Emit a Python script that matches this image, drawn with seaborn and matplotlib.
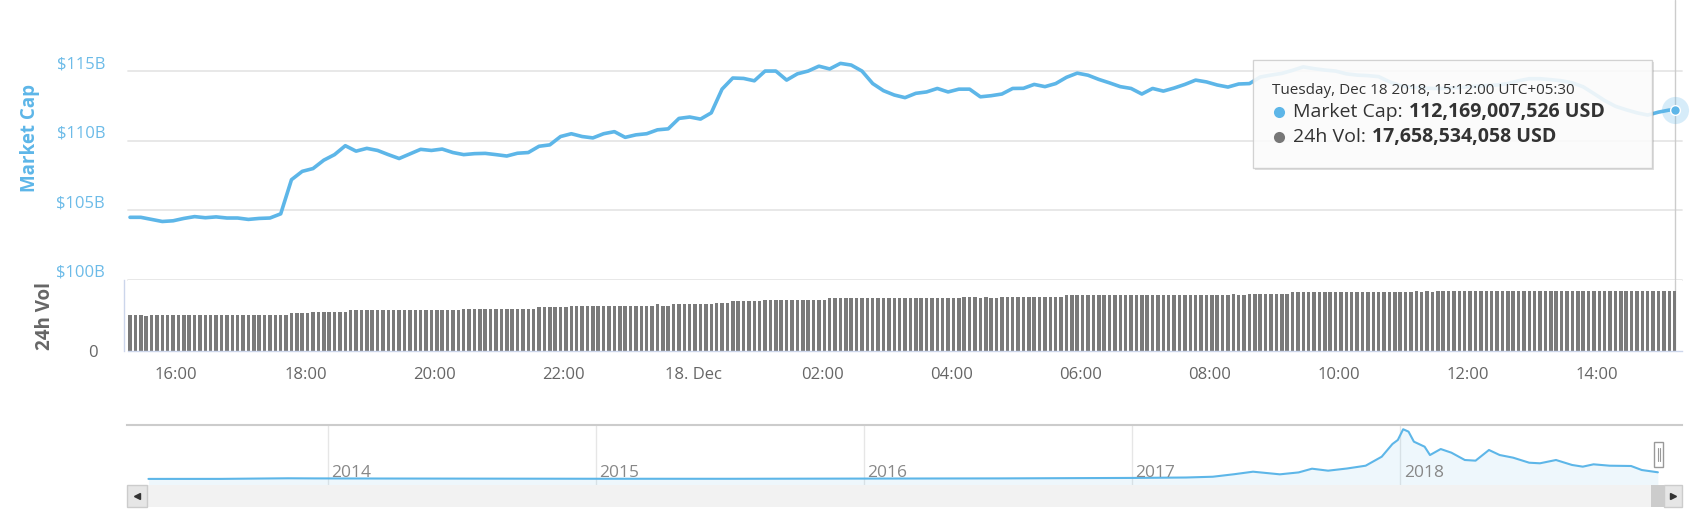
import matplotlib
matplotlib.use("Agg")
import matplotlib.pyplot as plt
import matplotlib.transforms as mtransforms
from matplotlib.lines import Line2D
from matplotlib.patches import Rectangle
import seaborn as sns

W, H = 1694, 519
BLUE = "#5db6e8"
GREY_TXT = "#666666"

# market cap, $B, every 10 min from 15:17 (minutes counted from 16:00 Dec 17)
mc_minutes = list(range(-43, 1388, 10)) + [1392]
market_cap = [
    104.5, 104.5, 104.35, 104.2, 104.25, 104.42, 104.55, 104.47, 104.53, 104.45,
    104.45, 104.35, 104.42, 104.45, 104.75, 107.2, 107.8, 108.0, 108.6, 109.0,
    109.64, 109.25, 109.45, 109.3, 109.0, 108.72, 109.05, 109.38, 109.3, 109.4,
    109.15, 109.0, 109.07, 109.09, 109.0, 108.9, 109.1, 109.15, 109.6, 109.7,
    110.3, 110.5, 110.3, 110.2, 110.5, 110.65, 110.24, 110.42, 110.5, 110.78,
    110.85, 111.6, 111.7, 111.55, 112.0, 113.7, 114.5, 114.47, 114.3, 115.0,
    115.0, 114.35, 114.8, 115.0, 115.35, 115.15, 115.55, 115.43, 115.0, 114.1,
    113.59, 113.28, 113.09, 113.4, 113.5, 113.75, 113.5, 113.7, 113.7, 113.15,
    113.23, 113.35, 113.75, 113.76, 114.04, 113.88, 114.1, 114.55, 114.85, 114.7,
    114.4, 114.15, 113.88, 113.75, 113.35, 113.75, 113.56, 113.78, 114.04, 114.35,
    114.22, 114.0, 113.85, 114.07, 114.1, 114.57, 114.71, 114.83, 115.05, 115.3,
    115.17, 115.07, 115.0, 114.8, 114.71, 114.67, 114.6, 114.23, 113.95, 113.85,
    113.8, 113.75, 113.75, 113.8, 113.85, 113.9, 113.95, 114.0, 114.1, 114.3,
    114.45, 114.45, 114.38, 114.3, 114.15, 113.87, 113.38, 112.88, 112.47, 112.22,
    112.0, 111.84, 112.05, 112.2, 112.169,
]

# 24h volume, $B, every 5 min (one row per hour)
vol_minutes = list(range(-43, 1393, 5))
volume = [
    10.6, 10.6, 10.6, 10.2, 10.6, 10.6, 10.6, 10.6, 10.6, 10.6, 10.6, 10.6,
    10.6, 10.6, 10.6, 10.6, 10.6, 10.6, 10.6, 10.6, 10.6, 10.6, 10.6, 10.6,
    10.6, 10.6, 10.6, 10.6, 10.6, 10.6, 11.1, 11.1, 11.1, 11.1, 11.5, 11.5,
    11.5, 11.5, 11.5, 11.5, 11.5, 12.05, 12.05, 12.05, 12.05, 12.05, 12.05, 12.05,
    12.05, 12.05, 12.05, 12.05, 12.05, 12.05, 12.05, 12.05, 12.05, 12.05, 12.05, 12.05,
    12.05, 12.05, 12.4, 12.4, 12.4, 12.4, 12.4, 12.4, 12.4, 12.4, 12.4, 12.4,
    12.4, 12.4, 12.4, 12.4, 12.9, 12.9, 12.9, 12.9, 12.9, 12.9, 13.3, 13.3,
    13.3, 13.3, 13.3, 13.3, 13.3, 13.3, 13.3, 13.3, 13.3, 13.3, 13.3, 13.3,
    13.3, 13.3, 13.8, 13.3, 13.3, 13.8, 13.8, 13.8, 13.8, 13.8, 13.8, 13.8,
    13.8, 14.2, 14.2, 14.2, 14.7, 14.7, 14.7, 14.7, 14.7, 14.7, 15.05, 15.05,
    15.05, 15.05, 15.05, 15.05, 15.05, 15.05, 15.05, 15.05, 15.05, 15.05, 15.55, 15.55,
    15.55, 15.55, 15.55, 15.55, 15.55, 15.55, 15.55, 15.55, 15.55, 15.55, 15.55, 15.55,
    15.55, 15.55, 15.55, 15.55, 15.55, 15.55, 15.55, 15.55, 15.55, 15.55, 15.55, 15.95,
    15.95, 15.95, 15.55, 15.95, 15.55, 15.55, 15.95, 15.95, 15.95, 15.95, 15.95, 15.95,
    15.95, 15.95, 15.95, 15.95, 15.95, 15.95, 16.45, 16.45, 16.45, 16.45, 16.45, 16.45,
    16.45, 16.45, 16.45, 16.45, 16.45, 16.45, 16.45, 16.45, 16.45, 16.45, 16.45, 16.45,
    16.45, 16.45, 16.45, 16.45, 16.45, 16.45, 16.45, 16.45, 16.45, 16.45, 16.45, 16.45,
    16.45, 16.85, 16.45, 16.45, 16.85, 16.85, 16.85, 16.85, 16.85, 16.85, 16.85, 16.85,
    17.3, 17.3, 17.3, 17.3, 17.3, 17.3, 17.3, 17.3, 17.3, 17.3, 17.3, 17.3,
    17.3, 17.3, 17.3, 17.3, 17.3, 17.3, 17.3, 17.3, 17.3, 17.3, 17.3, 17.66,
    17.3, 17.66, 17.3, 17.66, 17.66, 17.66, 17.66, 17.66, 17.66, 17.66, 17.66, 17.66,
    17.66, 17.66, 17.66, 17.66, 17.66, 17.66, 17.66, 17.66, 17.66, 17.66, 17.66, 17.66,
    17.66, 17.66, 17.66, 17.66, 17.66, 17.66, 17.66, 17.66, 17.66, 17.66, 17.66, 17.66,
    17.66, 17.66, 17.66, 17.66, 17.66, 17.66, 17.66, 17.66, 17.66, 17.66, 17.66, 17.66,
]

# navigator: total market cap history, $B
nav_year = [2013.33, 2013.6, 2013.85, 2013.95, 2014.2, 2014.6, 2015.0, 2015.5, 2016.0,
            2016.5, 2017.0, 2017.2, 2017.3, 2017.38, 2017.45, 2017.55, 2017.62, 2017.67,
            2017.73, 2017.8, 2017.87, 2017.93, 2017.97, 2017.99, 2018.01, 2018.03, 2018.05,
            2018.09, 2018.11, 2018.15, 2018.19, 2018.24, 2018.28, 2018.33, 2018.37, 2018.42,
            2018.48, 2018.52, 2018.58, 2018.64, 2018.68, 2018.72, 2018.78, 2018.86, 2018.9,
            2018.96]
nav_cap = [1.5, 2, 12, 10, 8, 6, 4, 3.5, 7,
           10, 18, 25, 38, 80, 122, 78, 110, 172,
           139, 175, 222, 372, 584, 651, 830, 790, 623,
           539, 400, 500, 439, 317, 306, 484, 400, 356,
           272, 262, 317, 234, 206, 245, 222, 217, 150,
           112]
nav_years = [2014, 2015, 2016, 2017, 2018]

cap_ticks = [100, 105, 110, 115]
cap_labels = ["$100B", "$105B", "$110B", "$115B"]
time_ticks = list(range(0, 1321, 120))
time_labels = ["16:00", "18:00", "20:00", "22:00", "18. Dec", "02:00",
               "04:00", "06:00", "08:00", "10:00", "12:00", "14:00"]

sns.set_style("white")
plt.rcParams["font.family"] = ["Open Sans", "DejaVu Sans"]

fig = plt.figure(figsize=(W / 100, H / 100), dpi=100)


def box(l, t, r, b):
    return [l / W, 1 - b / H, (r - l) / W, (b - t) / H]


def fx(x):
    return x / W


def fy(y):
    return 1 - y / H


XMIN = (128 - 176.3) / 1.0764
XMAX = (1682 - 176.3) / 1.0764

ax = fig.add_axes(box(128, 0, 1682, 280))
ax_vol = fig.add_axes(box(128, 280, 1682, 351))
ax_nav = fig.add_axes(box(127, 425, 1682, 485))

# --- market cap pane
for v in cap_ticks:
    ax.axhline(v, color="#e6e6e6", lw=1.3, zorder=0, clip_on=False)
ax.axvline(mc_minutes[-1], color="#cccccc", lw=1, zorder=1)
sns.lineplot(x=mc_minutes, y=market_cap, ax=ax, color=BLUE, linewidth=2.6, zorder=3)
ax.plot([mc_minutes[-1]], [market_cap[-1]], "o", ms=19.5, color=BLUE, alpha=0.25,
        mec="none", zorder=4, clip_on=False)
ax.plot([mc_minutes[-1]], [market_cap[-1]], "o", ms=7, color=BLUE, mec="white",
        mew=1, zorder=5, clip_on=False)
ax.set_xlim(XMIN, XMAX)
ax.set_ylim(100, 120.1)
ax.set_yticks(cap_ticks, cap_labels)
ax.tick_params(axis="y", length=0, pad=16.5, labelsize=12, labelcolor="#6cbbe8")
ax.set_xticks([])
ax.set_xlabel("")
ax.set_ylabel("")
sns.despine(ax=ax, left=True, bottom=True)
off = mtransforms.ScaledTranslation(0, 0.09, fig.dpi_scale_trans)
for lab in ax.get_yticklabels():
    lab.set_transform(lab.get_transform() + off)

# --- volume pane
ax_vol.axvline(mc_minutes[-1], color="#cccccc", lw=1, zorder=0)
sns.barplot(x=vol_minutes, y=volume, native_scale=True, width=0.65, color="#7a7a7a",
            saturation=1, errorbar=None, linewidth=0, ax=ax_vol)
ax_vol.set_xlim(XMIN, XMAX)
ax_vol.set_ylim(0, 20.9)
ax_vol.set_xticks(time_ticks, time_labels)
ax_vol.set_yticks([0], ["0"])
ax_vol.tick_params(axis="x", length=7.2, width=1, color="#ccd6eb", pad=4,
                   labelsize=12, labelcolor=GREY_TXT)
ax_vol.tick_params(axis="y", length=0, pad=19, labelsize=12, labelcolor=GREY_TXT)
off0 = mtransforms.ScaledTranslation(0, 0.08, fig.dpi_scale_trans)
for lab in ax_vol.get_yticklabels():
    lab.set_transform(lab.get_transform() + off0)
ax_vol.set_xlabel("")
ax_vol.set_ylabel("")
sns.despine(ax=ax_vol)
for side in ("left", "bottom"):
    ax_vol.spines[side].set_color("#ccd6eb")
    ax_vol.spines[side].set_linewidth(1)
ax_vol.spines["left"].set_position(("outward", 2.9))

fig.text(fx(30), fy(138), "Market Cap", rotation=90, color=BLUE, fontsize=13.5,
         fontweight="bold", ha="center", va="center")
fig.text(fx(45), fy(316), "24h Vol", rotation=90, color=GREY_TXT, fontsize=13.5,
         fontweight="bold", ha="center", va="center")

# --- navigator
for yr in nav_years:
    ax_nav.axvline(yr, color="#e6e6e6", lw=1, zorder=0)
    ax_nav.text(yr + 0.012, 0.2, str(yr), color="#888888", fontsize=12.5,
                va="center", ha="left",
                transform=mtransforms.blended_transform_factory(ax_nav.transData, ax_nav.transAxes))
ax_nav.fill_between(nav_year, nav_cap, -100, color=BLUE, alpha=0.1, lw=0)
sns.lineplot(x=nav_year, y=nav_cap, ax=ax_nav, color=BLUE, linewidth=1.5)
ax_nav.set_xlim(2013.25, 2019.05)
ax_nav.set_ylim(-100, 901)
ax_nav.set_xticks([])
ax_nav.set_yticks([])
ax_nav.set_xlabel("")
ax_nav.set_ylabel("")
for side in ("left", "right", "bottom"):
    ax_nav.spines[side].set_visible(False)
ax_nav.spines["top"].set_color("#cccccc")
ax_nav.spines["top"].set_linewidth(1.5)


def rect(l, t, r, b, **kw):
    fig.add_artist(Rectangle((fx(l), fy(b)), (r - l) / W, (b - t) / H,
                             transform=fig.transFigure, **kw))


# navigator handle
rect(1654, 442, 1663, 467, fc="white", ec="#999999", lw=1, zorder=5)
for xh in (1657.5, 1659.5):
    fig.add_artist(Line2D([fx(xh), fx(xh)], [fy(448), fy(461)], color="#999999",
                          lw=0.8, transform=fig.transFigure, zorder=6))

# scrollbar
rect(127, 485, 1682, 507, fc="#f2f2f2", ec="none", zorder=2)
rect(127, 485, 147, 507, fc="#e6e6e6", ec="#cccccc", lw=1, zorder=3)
rect(1651, 485, 1664, 507, fc="#cccccc", ec="none", zorder=3)
rect(1664, 485, 1682, 507, fc="#e6e6e6", ec="#cccccc", lw=1, zorder=3)
fig.add_artist(Line2D([fx(137)], [fy(496)], marker="<", ms=4, color="#333333",
                      transform=fig.transFigure, zorder=4))
fig.add_artist(Line2D([fx(1673)], [fy(496)], marker=">", ms=4, color="#333333",
                      transform=fig.transFigure, zorder=4))

# tooltip
rect(1255, 62, 1654, 170, fc="black", alpha=0.12, ec="none", zorder=7)
rect(1253, 60, 1652, 168, fc="white", alpha=0.88, ec="#cccccc", lw=1, zorder=8)
fig.text(fx(1272), fy(91), "Tuesday, Dec 18 2018, 15:12:00 UTC+05:30", fontsize=11,
         color="#333333", va="center", ha="left", zorder=9)
renderer = fig.canvas.get_renderer()
for y, col, name, val in [(112, BLUE, "Market Cap:", "112,169,007,526 USD"),
                          (137, "#777777", "24h Vol:", "17,658,534,058 USD")]:
    fig.add_artist(Line2D([fx(1279)], [fy(y)], marker="o", ms=8, color=col, mec="none",
                          transform=fig.transFigure, zorder=9))
    t = fig.text(fx(1293), fy(y), name, fontsize=14, color="#333333", va="center",
                 ha="left", zorder=9)
    bb = t.get_window_extent(renderer=renderer)
    fig.text(fx(bb.x1 + 6), fy(y), val, fontsize=14, fontweight="bold", color="#333333",
             va="center", ha="left", zorder=9)

fig.savefig("out.png", dpi=100)
